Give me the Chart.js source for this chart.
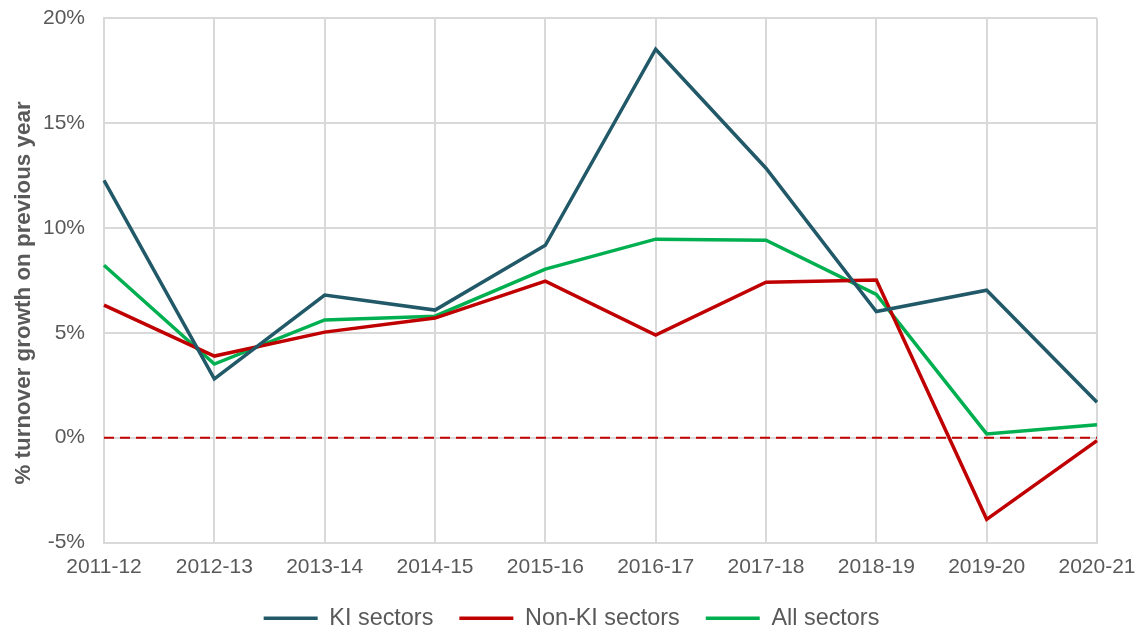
<!DOCTYPE html>
<html>
<head>
<meta charset="utf-8">
<script src="https://cdn.jsdelivr.net/npm/chart.js@4.4.0/dist/chart.umd.min.js"></script>
<style>
  html, body { margin: 0; padding: 0; background: #fff; }
  #wrap { width: 1143px; height: 637px; }
</style>
</head>
<body>
<div id="wrap"><canvas id="turnoverChart"></canvas></div>
<script>
// Turnover growth on previous year, by sector group

const years = ['2011-12', '2012-13', '2013-14', '2014-15', '2015-16', '2016-17', '2017-18', '2018-19', '2019-20', '2020-21'];
const kiSectors = [12.26, 2.80, 6.80, 6.08, 9.17, 18.51, 12.84, 6.01, 7.03, 1.69];
const nonKiSectors = [6.32, 3.89, 5.03, 5.70, 7.46, 4.89, 7.41, 7.51, -3.89, -0.14];
const allSectors = [8.22, 3.51, 5.61, 5.79, 8.03, 9.46, 9.41, 6.83, 0.18, 0.62];
const zeroLine = years.map(() => 0);
const yTitle = '% turnover growth on previous year';

const FONT = "'Liberation Sans', Arial, sans-serif";
const GREY = '#595959';

// y axis title, drawn by hand so it sits centred on plot + labels like the original
const yTitlePlugin = {
    id: 'yTitle',
    afterDraw(chart) {
        const c = chart.ctx;
        c.save();
        c.translate(24, 293);
        c.rotate(-Math.PI / 2);
        c.fillStyle = GREY;
        c.font = 'bold 22.4px ' + FONT;
        c.textAlign = 'center';
        c.textBaseline = 'middle';
        c.fillText(yTitle, 0, 0);
        c.restore();
    }
};

const ctx = document.getElementById('turnoverChart').getContext('2d');

const chart = new Chart(ctx, {
    type: 'line',
    data: {
        labels: years,
        datasets: [
            {
                label: 'KI sectors',
                data: kiSectors,
                borderColor: '#215968',
                backgroundColor: '#215968',
                borderWidth: 3.5,
                pointRadius: 0,
                tension: 0,
            },
            {
                label: 'Non-KI sectors',
                data: nonKiSectors,
                borderColor: '#C00000',
                backgroundColor: '#C00000',
                borderWidth: 3.5,
                pointRadius: 0,
                tension: 0,
            },
            {
                label: 'All sectors',
                data: allSectors,
                borderColor: '#00B050',
                backgroundColor: '#00B050',
                borderWidth: 3.5,
                pointRadius: 0,
                tension: 0,
            },
            {
                label: 'zero',
                data: zeroLine,
                borderColor: '#C00000',
                borderWidth: 2,
                borderDash: [10, 6],
                pointRadius: 0,
                order: 10,
            },
        ]
    },
    options: {
        responsive: true,
        maintainAspectRatio: false,
        animation: false,
        layout: {
            padding: { left: 0, right: 0, top: 18, bottom: -3 }
        },
        scales: {
            x: {
                offset: false,
                grid: {
                    color: '#D9D9D9',
                    lineWidth: 2,
                    drawTicks: false,
                },
                border: { color: '#D9D9D9', width: 2 },
                ticks: {
                    color: GREY,
                    padding: 12,
                    maxRotation: 0,
                    font: { family: FONT, size: 21 }
                },
                afterFit: (scale) => {
                    scale.height = 38;
                    scale.paddingRight = 46;
                }
            },
            y: {
                min: -5,
                max: 20,
                grid: {
                    color: '#D9D9D9',
                    lineWidth: 2,
                    drawTicks: false,
                },
                border: { color: '#D9D9D9', width: 2 },
                ticks: {
                    stepSize: 5,
                    color: GREY,
                    padding: 19,
                    font: { family: FONT, size: 21 },
                    callback: (value) => value + '%'
                },
                afterFit: (scale) => {
                    scale.width = 104;
                    scale.paddingTop = 0;
                    scale.paddingBottom = 0;
                }
            }
        },
        plugins: {
            legend: {
                position: 'bottom',
                align: 'center',
                labels: {
                    color: GREY,
                    usePointStyle: true,
                    pointStyle: 'line',
                    pointStyleWidth: 54,
                    padding: 26,
                    font: { family: FONT, size: 23.4 },
                    filter: (item) => item.text !== 'zero'
                }
            },
            tooltip: { enabled: false }
        }
    },
    plugins: [yTitlePlugin]
});
</script>
</body>
</html>
